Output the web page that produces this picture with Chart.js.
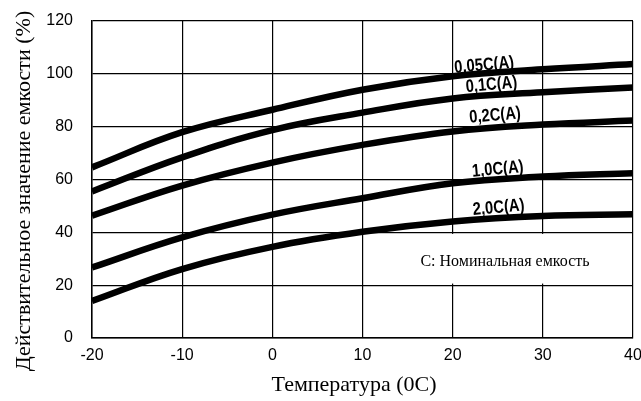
<!DOCTYPE html>
<html>
<head>
<meta charset="utf-8">
<script src="https://cdn.jsdelivr.net/npm/chart.js@4.4.0/dist/chart.umd.min.js"></script>
<style>
    body { margin: 0; background: #fff; }
</style>
</head>
<body>
<canvas id="capacityChart" width="641" height="401"></canvas>
<script>
var temps = [-20, -10, 0, 10, 20, 30, 40];
var rate005 = [64.6, 77.9, 86.4, 94, 99.1, 101.7, 103.7];
var rate01 = [55.5, 68.4, 78.7, 85.3, 90.7, 93, 94.8];
var rate02 = [46.3, 57.7, 66.4, 73.1, 78.2, 80.8, 82.3];
var rate10 = [26.7, 38.1, 46.7, 52.9, 58.6, 61.1, 62.4];
var rate20 = [14, 26.1, 34.5, 40.2, 44.1, 46.2, 46.8];

var rateNames = ["0,05C(A)", "0,1C(A)", "0,2C(A)", "1,0C(A)", "2,0C(A)"];
// where the curve names sit, in chart units (temperature, %)
var nameX = [23.5, 24.3, 24.7, 25.0, 25.1];
var nameY = [103.2, 95.8, 84.2, 63.8, 49.3];

var xTicks = [-20, -10, 0, 10, 20, 30, 40];
var yTicks = [0, 20, 40, 60, 80, 100, 120];

var xTitle = "Температура (0C)";
var yTitle = "Действительное значение емкости (%)";
var noteText = "C: Номинальная емкость";

function makeSet(values) {
    return {
        data: temps.map(function (t, i) { return { x: t, y: values[i] }; }),
        borderColor: "#000",
        borderWidth: 6.5,
        pointRadius: 0,
        pointHoverRadius: 0,
        fill: false,
        tension: 0.4,
        borderCapStyle: "butt"
    };
}

var notePlugin = {
    id: "notePlugin",
    beforeDatasetsDraw: function (chart) {
        var ctx = chart.ctx, x = chart.scales.x, y = chart.scales.y;
        // white box for the note, it cuts the grid like in the scan
        var left = x.getPixelForValue(12), right = x.getPixelForValue(39.85);
        var top = y.getPixelForValue(39.4), bottom = y.getPixelForValue(20.6);
        ctx.save();
        ctx.fillStyle = "#fff";
        ctx.fillRect(left, top, right - left, bottom - top);
        ctx.fillStyle = "#000";
        ctx.font = "16px 'Liberation Serif', serif";
        ctx.textAlign = "center";
        ctx.textBaseline = "middle";
        ctx.fillText(noteText, x.getPixelForValue(25.8), y.getPixelForValue(28.9));
        ctx.restore();
    },
    afterDatasetsDraw: function (chart) {
        var ctx = chart.ctx, x = chart.scales.x, y = chart.scales.y;
        ctx.save();
        ctx.fillStyle = "#000";
        ctx.font = "bold 18px 'Liberation Sans', sans-serif";
        ctx.textAlign = "center";
        ctx.textBaseline = "middle";
        for (var i = 0; i < rateNames.length; i++) {
            ctx.save();
            ctx.translate(x.getPixelForValue(nameX[i]), y.getPixelForValue(nameY[i]));
            ctx.rotate(-5 * Math.PI / 180);
            ctx.scale(0.82, 1);
            ctx.fillText(rateNames[i], 0, 0);
            ctx.restore();
        }
        ctx.restore();
    },
    afterDraw: function (chart) {
        var ctx = chart.ctx;
        ctx.save();
        ctx.fillStyle = "#000";
        ctx.font = "22px 'Liberation Serif', serif";
        ctx.textAlign = "center";
        ctx.textBaseline = "middle";
        ctx.fillText(xTitle, 354, 385);
        ctx.translate(24, 191);
        ctx.rotate(-Math.PI / 2);
        ctx.fillText(yTitle, 0, 0);
        ctx.restore();
    }
};

var ctxCapacity = document.getElementById("capacityChart").getContext("2d");

var capacityChart = new Chart(ctxCapacity, {
    type: "line",
    data: {
        datasets: [makeSet(rate005), makeSet(rate01), makeSet(rate02), makeSet(rate10), makeSet(rate20)]
    },
    plugins: [notePlugin],
    options: {
        responsive: false,
        animation: false,
        layout: { autoPadding: false, padding: { top: 21, right: 8, left: 0, bottom: 0 } },
        plugins: {
            legend: { display: false },
            tooltip: { enabled: false }
        },
        scales: {
            x: {
                type: "linear",
                min: -20,
                max: 40,
                afterBuildTicks: function (scale) {
                    scale.ticks = xTicks.map(function (v) { return { value: v }; });
                },
                afterFit: function (scale) {
                    scale.height = 63;
                    scale.paddingLeft = 0;
                    scale.paddingRight = 0;
                },
                grid: { color: "#000", lineWidth: 1.2, drawTicks: false },
                border: { color: "#000", width: 1.5 },
                ticks: {
                    color: "#000",
                    padding: 8,
                    font: { family: "'Liberation Sans', sans-serif", size: 16 }
                }
            },
            y: {
                min: 0,
                max: 120,
                afterBuildTicks: function (scale) {
                    scale.ticks = yTicks.map(function (v) { return { value: v }; });
                },
                afterFit: function (scale) {
                    scale.width = 92;
                    scale.paddingTop = 0;
                    scale.paddingBottom = 0;
                },
                grid: { color: "#000", lineWidth: 1.2, drawTicks: false },
                border: { color: "#000", width: 1.5 },
                ticks: {
                    color: "#000",
                    padding: 19,
                    font: { family: "'Liberation Sans', sans-serif", size: 16 }
                }
            }
        }
    }
});
</script>
</body>
</html>
